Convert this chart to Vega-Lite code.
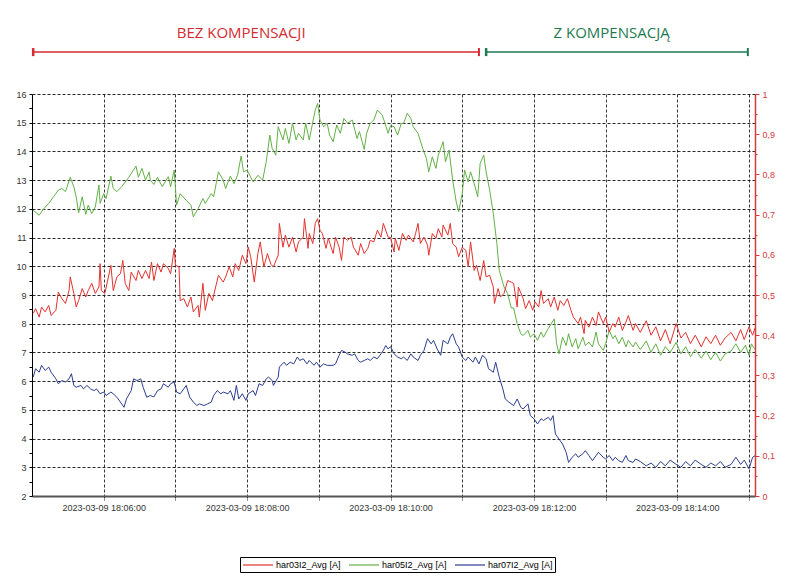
{
"$schema": "https://vega.github.io/schema/vega-lite/v6.json",
"width": 723, "height": 402,
"autosize": {"type": "none"},
"padding": {"left": 32, "top": 94, "right": 42, "bottom": 89},
"background": "white",
"config": {"view": {"stroke": null}, "axis": {"labelFont": "Liberation Sans", "labelFontSize": 9, "labelColor": "#333", "title": null}},
"datasets": {
"sections": [
{"section": "BEZ KOMPENSACJI", "start": "2023-03-09 18:05:01", "end": "2023-03-09 18:11:14", "mid": "2023-03-09 18:07:55"},
{"section": "Z KOMPENSACJĄ", "start": "2023-03-09 18:11:20", "end": "2023-03-09 18:14:59", "mid": "2023-03-09 18:13:05"}
],
"red": [
{"t":"2023-03-09 18:05:01","v":0.454},{"t":"2023-03-09 18:05:03","v":0.466},{"t":"2023-03-09 18:05:06","v":0.445},{"t":"2023-03-09 18:05:08","v":0.470},{"t":"2023-03-09 18:05:11","v":0.458},{"t":"2023-03-09 18:05:14","v":0.474},{"t":"2023-03-09 18:05:16","v":0.449},{"t":"2023-03-09 18:05:20","v":0.462},{"t":"2023-03-09 18:05:22","v":0.507},{"t":"2023-03-09 18:05:25","v":0.491},{"t":"2023-03-09 18:05:28","v":0.479},{"t":"2023-03-09 18:05:31","v":0.511},{"t":"2023-03-09 18:05:32","v":0.545},{"t":"2023-03-09 18:05:35","v":0.504},{"t":"2023-03-09 18:05:37","v":0.470},{"t":"2023-03-09 18:05:39","v":0.486},{"t":"2023-03-09 18:05:42","v":0.516},{"t":"2023-03-09 18:05:45","v":0.495},{"t":"2023-03-09 18:05:47","v":0.511},{"t":"2023-03-09 18:05:50","v":0.529},{"t":"2023-03-09 18:05:53","v":0.504},{"t":"2023-03-09 18:05:56","v":0.520},{"t":"2023-03-09 18:05:57","v":0.578},{"t":"2023-03-09 18:05:58","v":0.511},
{"t":"2023-03-09 18:06:01","v":0.504},{"t":"2023-03-09 18:06:03","v":0.532},{"t":"2023-03-09 18:06:06","v":0.574},{"t":"2023-03-09 18:06:08","v":0.511},{"t":"2023-03-09 18:06:11","v":0.545},{"t":"2023-03-09 18:06:14","v":0.553},{"t":"2023-03-09 18:06:16","v":0.586},{"t":"2023-03-09 18:06:18","v":0.529},{"t":"2023-03-09 18:06:21","v":0.511},{"t":"2023-03-09 18:06:23","v":0.557},{"t":"2023-03-09 18:06:27","v":0.536},{"t":"2023-03-09 18:06:29","v":0.561},{"t":"2023-03-09 18:06:32","v":0.541},{"t":"2023-03-09 18:06:35","v":0.561},{"t":"2023-03-09 18:06:38","v":0.541},{"t":"2023-03-09 18:06:40","v":0.582},{"t":"2023-03-09 18:06:42","v":0.536},{"t":"2023-03-09 18:06:45","v":0.578},{"t":"2023-03-09 18:06:48","v":0.557},{"t":"2023-03-09 18:06:50","v":0.578},{"t":"2023-03-09 18:06:54","v":0.566},{"t":"2023-03-09 18:06:56","v":0.553},{"t":"2023-03-09 18:06:59","v":0.616},
{"t":"2023-03-09 18:07:00","v":0.574},{"t":"2023-03-09 18:07:03","v":0.570},{"t":"2023-03-09 18:07:04","v":0.486},{"t":"2023-03-09 18:07:07","v":0.491},{"t":"2023-03-09 18:07:10","v":0.470},{"t":"2023-03-09 18:07:13","v":0.495},{"t":"2023-03-09 18:07:15","v":0.458},{"t":"2023-03-09 18:07:19","v":0.474},{"t":"2023-03-09 18:07:20","v":0.445},{"t":"2023-03-09 18:07:23","v":0.529},{"t":"2023-03-09 18:07:25","v":0.462},{"t":"2023-03-09 18:07:28","v":0.504},{"t":"2023-03-09 18:07:31","v":0.486},{"t":"2023-03-09 18:07:34","v":0.524},{"t":"2023-03-09 18:07:36","v":0.549},{"t":"2023-03-09 18:07:40","v":0.532},{"t":"2023-03-09 18:07:42","v":0.545},{"t":"2023-03-09 18:07:45","v":0.570},{"t":"2023-03-09 18:07:48","v":0.545},{"t":"2023-03-09 18:07:50","v":0.578},{"t":"2023-03-09 18:07:53","v":0.561},{"t":"2023-03-09 18:07:56","v":0.599},{"t":"2023-03-09 18:07:59","v":0.578},
{"t":"2023-03-09 18:08:01","v":0.619},{"t":"2023-03-09 18:08:03","v":0.595},{"t":"2023-03-09 18:08:06","v":0.532},{"t":"2023-03-09 18:08:09","v":0.603},{"t":"2023-03-09 18:08:11","v":0.632},{"t":"2023-03-09 18:08:14","v":0.570},{"t":"2023-03-09 18:08:17","v":0.603},{"t":"2023-03-09 18:08:20","v":0.576},{"t":"2023-03-09 18:08:22","v":0.570},{"t":"2023-03-09 18:08:26","v":0.599},{"t":"2023-03-09 18:08:27","v":0.678},{"t":"2023-03-09 18:08:30","v":0.619},{"t":"2023-03-09 18:08:32","v":0.649},{"t":"2023-03-09 18:08:35","v":0.619},{"t":"2023-03-09 18:08:38","v":0.644},{"t":"2023-03-09 18:08:41","v":0.607},{"t":"2023-03-09 18:08:43","v":0.632},{"t":"2023-03-09 18:08:47","v":0.644},{"t":"2023-03-09 18:08:48","v":0.690},{"t":"2023-03-09 18:08:51","v":0.616},{"t":"2023-03-09 18:08:52","v":0.653},{"t":"2023-03-09 18:08:55","v":0.628},{"t":"2023-03-09 18:08:57","v":0.678},{"t":"2023-03-09 18:08:59","v":0.690},
{"t":"2023-03-09 18:09:01","v":0.661},{"t":"2023-03-09 18:09:03","v":0.653},{"t":"2023-03-09 18:09:06","v":0.616},{"t":"2023-03-09 18:09:08","v":0.641},{"t":"2023-03-09 18:09:12","v":0.603},{"t":"2023-03-09 18:09:14","v":0.644},{"t":"2023-03-09 18:09:17","v":0.619},{"t":"2023-03-09 18:09:19","v":0.586},{"t":"2023-03-09 18:09:21","v":0.644},{"t":"2023-03-09 18:09:24","v":0.636},{"t":"2023-03-09 18:09:27","v":0.644},{"t":"2023-03-09 18:09:29","v":0.619},{"t":"2023-03-09 18:09:33","v":0.599},{"t":"2023-03-09 18:09:35","v":0.628},{"t":"2023-03-09 18:09:38","v":0.603},{"t":"2023-03-09 18:09:41","v":0.616},{"t":"2023-03-09 18:09:43","v":0.636},{"t":"2023-03-09 18:09:46","v":0.632},{"t":"2023-03-09 18:09:49","v":0.661},{"t":"2023-03-09 18:09:52","v":0.644},{"t":"2023-03-09 18:09:54","v":0.678},{"t":"2023-03-09 18:09:58","v":0.644},
{"t":"2023-03-09 18:10:00","v":0.643},{"t":"2023-03-09 18:10:03","v":0.607},{"t":"2023-03-09 18:10:04","v":0.641},{"t":"2023-03-09 18:10:07","v":0.611},{"t":"2023-03-09 18:10:10","v":0.653},{"t":"2023-03-09 18:10:13","v":0.636},{"t":"2023-03-09 18:10:15","v":0.649},{"t":"2023-03-09 18:10:19","v":0.632},{"t":"2023-03-09 18:10:21","v":0.653},{"t":"2023-03-09 18:10:23","v":0.678},{"t":"2023-03-09 18:10:25","v":0.628},{"t":"2023-03-09 18:10:28","v":0.644},{"t":"2023-03-09 18:10:31","v":0.624},{"t":"2023-03-09 18:10:32","v":0.599},{"t":"2023-03-09 18:10:35","v":0.653},{"t":"2023-03-09 18:10:38","v":0.641},{"t":"2023-03-09 18:10:40","v":0.665},{"t":"2023-03-09 18:10:43","v":0.644},{"t":"2023-03-09 18:10:44","v":0.674},{"t":"2023-03-09 18:10:48","v":0.649},{"t":"2023-03-09 18:10:50","v":0.678},{"t":"2023-03-09 18:10:52","v":0.628},{"t":"2023-03-09 18:10:55","v":0.619},{"t":"2023-03-09 18:10:57","v":0.595},
{"t":"2023-03-09 18:11:00","v":0.619},{"t":"2023-03-09 18:11:03","v":0.611},{"t":"2023-03-09 18:11:05","v":0.570},{"t":"2023-03-09 18:11:07","v":0.632},{"t":"2023-03-09 18:11:10","v":0.561},{"t":"2023-03-09 18:11:12","v":0.574},{"t":"2023-03-09 18:11:15","v":0.536},{"t":"2023-03-09 18:11:18","v":0.586},{"t":"2023-03-09 18:11:20","v":0.545},{"t":"2023-03-09 18:11:23","v":0.549},{"t":"2023-03-09 18:11:26","v":0.520},{"t":"2023-03-09 18:11:27","v":0.479},{"t":"2023-03-09 18:11:30","v":0.516},{"t":"2023-03-09 18:11:32","v":0.495},{"t":"2023-03-09 18:11:35","v":0.504},{"t":"2023-03-09 18:11:38","v":0.536},{"t":"2023-03-09 18:11:41","v":0.532},{"t":"2023-03-09 18:11:43","v":0.529},{"t":"2023-03-09 18:11:46","v":0.470},{"t":"2023-03-09 18:11:47","v":0.520},{"t":"2023-03-09 18:11:51","v":0.491},{"t":"2023-03-09 18:11:53","v":0.466},{"t":"2023-03-09 18:11:56","v":0.486},{"t":"2023-03-09 18:11:59","v":0.462},
{"t":"2023-03-09 18:12:01","v":0.483},{"t":"2023-03-09 18:12:04","v":0.470},{"t":"2023-03-09 18:12:06","v":0.511},{"t":"2023-03-09 18:12:08","v":0.479},{"t":"2023-03-09 18:12:12","v":0.491},{"t":"2023-03-09 18:12:14","v":0.470},{"t":"2023-03-09 18:12:17","v":0.495},{"t":"2023-03-09 18:12:20","v":0.462},{"t":"2023-03-09 18:12:22","v":0.486},{"t":"2023-03-09 18:12:25","v":0.474},{"t":"2023-03-09 18:12:28","v":0.491},{"t":"2023-03-09 18:12:31","v":0.462},{"t":"2023-03-09 18:12:33","v":0.445},{"t":"2023-03-09 18:12:37","v":0.429},{"t":"2023-03-09 18:12:39","v":0.445},{"t":"2023-03-09 18:12:42","v":0.404},{"t":"2023-03-09 18:12:43","v":0.437},{"t":"2023-03-09 18:12:46","v":0.420},{"t":"2023-03-09 18:12:49","v":0.445},{"t":"2023-03-09 18:12:52","v":0.424},{"t":"2023-03-09 18:12:54","v":0.458},{"t":"2023-03-09 18:12:58","v":0.429},
{"t":"2023-03-09 18:13:00","v":0.445},{"t":"2023-03-09 18:13:03","v":0.408},{"t":"2023-03-09 18:13:06","v":0.429},{"t":"2023-03-09 18:13:08","v":0.420},{"t":"2023-03-09 18:13:11","v":0.445},{"t":"2023-03-09 18:13:14","v":0.412},{"t":"2023-03-09 18:13:17","v":0.433},{"t":"2023-03-09 18:13:19","v":0.449},{"t":"2023-03-09 18:13:23","v":0.412},{"t":"2023-03-09 18:13:25","v":0.429},{"t":"2023-03-09 18:13:29","v":0.407},{"t":"2023-03-09 18:13:34","v":0.436},{"t":"2023-03-09 18:13:38","v":0.400},{"t":"2023-03-09 18:13:42","v":0.421},{"t":"2023-03-09 18:13:46","v":0.386},{"t":"2023-03-09 18:13:50","v":0.414},{"t":"2023-03-09 18:13:54","v":0.379},{"t":"2023-03-09 18:13:59","v":0.429},
{"t":"2023-03-09 18:14:03","v":0.393},{"t":"2023-03-09 18:14:07","v":0.407},{"t":"2023-03-09 18:14:11","v":0.379},{"t":"2023-03-09 18:14:15","v":0.400},{"t":"2023-03-09 18:14:20","v":0.371},{"t":"2023-03-09 18:14:24","v":0.396},{"t":"2023-03-09 18:14:28","v":0.379},{"t":"2023-03-09 18:14:32","v":0.400},{"t":"2023-03-09 18:14:36","v":0.375},{"t":"2023-03-09 18:14:40","v":0.393},{"t":"2023-03-09 18:14:45","v":0.407},{"t":"2023-03-09 18:14:49","v":0.386},{"t":"2023-03-09 18:14:53","v":0.414},{"t":"2023-03-09 18:14:56","v":0.389},{"t":"2023-03-09 18:15:00","v":0.421},{"t":"2023-03-09 18:15:03","v":0.400},{"t":"2023-03-09 18:15:05","v":0.418}
],
"green": [
{"t":"2023-03-09 18:05:01","v":11.95},{"t":"2023-03-09 18:05:06","v":11.78},{"t":"2023-03-09 18:05:10","v":12.01},{"t":"2023-03-09 18:05:14","v":12.19},{"t":"2023-03-09 18:05:18","v":12.42},{"t":"2023-03-09 18:05:22","v":12.65},{"t":"2023-03-09 18:05:25","v":12.71},{"t":"2023-03-09 18:05:28","v":12.60},{"t":"2023-03-09 18:05:32","v":13.10},{"t":"2023-03-09 18:05:35","v":12.77},{"t":"2023-03-09 18:05:37","v":12.42},{"t":"2023-03-09 18:05:39","v":11.86},{"t":"2023-03-09 18:05:42","v":12.42},{"t":"2023-03-09 18:05:45","v":11.81},{"t":"2023-03-09 18:05:47","v":12.13},{"t":"2023-03-09 18:05:50","v":11.84},{"t":"2023-03-09 18:05:53","v":12.07},{"t":"2023-03-09 18:05:56","v":12.83},{"t":"2023-03-09 18:05:57","v":12.19},
{"t":"2023-03-09 18:06:00","v":12.53},{"t":"2023-03-09 18:06:02","v":12.36},{"t":"2023-03-09 18:06:06","v":13.14},{"t":"2023-03-09 18:06:08","v":12.71},{"t":"2023-03-09 18:06:11","v":12.60},{"t":"2023-03-09 18:06:15","v":12.77},{"t":"2023-03-09 18:06:21","v":13.10},{"t":"2023-03-09 18:06:27","v":13.49},{"t":"2023-03-09 18:06:29","v":13.10},{"t":"2023-03-09 18:06:32","v":13.41},{"t":"2023-03-09 18:06:35","v":13.00},{"t":"2023-03-09 18:06:38","v":13.29},{"t":"2023-03-09 18:06:39","v":13.00},{"t":"2023-03-09 18:06:42","v":12.85},{"t":"2023-03-09 18:06:45","v":13.10},{"t":"2023-03-09 18:06:49","v":12.77},{"t":"2023-03-09 18:06:54","v":13.12},{"t":"2023-03-09 18:06:56","v":12.77},{"t":"2023-03-09 18:06:59","v":13.35},
{"t":"2023-03-09 18:07:01","v":12.13},{"t":"2023-03-09 18:07:04","v":12.53},{"t":"2023-03-09 18:07:09","v":12.30},{"t":"2023-03-09 18:07:13","v":12.13},{"t":"2023-03-09 18:07:15","v":11.72},{"t":"2023-03-09 18:07:19","v":12.01},{"t":"2023-03-09 18:07:23","v":12.36},{"t":"2023-03-09 18:07:25","v":12.19},{"t":"2023-03-09 18:07:30","v":12.53},{"t":"2023-03-09 18:07:32","v":12.42},{"t":"2023-03-09 18:07:36","v":13.29},{"t":"2023-03-09 18:07:40","v":13.00},{"t":"2023-03-09 18:07:42","v":12.71},{"t":"2023-03-09 18:07:46","v":13.14},{"t":"2023-03-09 18:07:49","v":12.88},{"t":"2023-03-09 18:07:52","v":13.17},{"t":"2023-03-09 18:07:55","v":13.84},{"t":"2023-03-09 18:07:57","v":13.29},
{"t":"2023-03-09 18:08:00","v":13.35},{"t":"2023-03-09 18:08:05","v":12.94},{"t":"2023-03-09 18:08:09","v":13.17},{"t":"2023-03-09 18:08:13","v":13.00},{"t":"2023-03-09 18:08:16","v":13.64},{"t":"2023-03-09 18:08:19","v":14.57},{"t":"2023-03-09 18:08:21","v":14.10},{"t":"2023-03-09 18:08:24","v":13.87},{"t":"2023-03-09 18:08:26","v":14.86},{"t":"2023-03-09 18:08:30","v":14.40},{"t":"2023-03-09 18:08:32","v":14.80},{"t":"2023-03-09 18:08:35","v":14.28},{"t":"2023-03-09 18:08:38","v":14.98},{"t":"2023-03-09 18:08:41","v":14.40},{"t":"2023-03-09 18:08:43","v":14.63},{"t":"2023-03-09 18:08:47","v":14.40},{"t":"2023-03-09 18:08:49","v":14.98},{"t":"2023-03-09 18:08:52","v":14.40},{"t":"2023-03-09 18:08:55","v":15.03},{"t":"2023-03-09 18:08:57","v":15.44},{"t":"2023-03-09 18:08:59","v":15.67},
{"t":"2023-03-09 18:09:01","v":15.09},{"t":"2023-03-09 18:09:04","v":14.86},{"t":"2023-03-09 18:09:07","v":14.98},{"t":"2023-03-09 18:09:09","v":14.57},{"t":"2023-03-09 18:09:12","v":14.34},{"t":"2023-03-09 18:09:15","v":14.92},{"t":"2023-03-09 18:09:18","v":14.63},{"t":"2023-03-09 18:09:21","v":15.15},{"t":"2023-03-09 18:09:24","v":14.98},{"t":"2023-03-09 18:09:28","v":15.09},{"t":"2023-03-09 18:09:32","v":14.45},{"t":"2023-03-09 18:09:34","v":14.69},{"t":"2023-03-09 18:09:38","v":14.07},{"t":"2023-03-09 18:09:40","v":14.63},{"t":"2023-03-09 18:09:43","v":14.98},{"t":"2023-03-09 18:09:46","v":15.09},{"t":"2023-03-09 18:09:49","v":15.44},{"t":"2023-03-09 18:09:53","v":15.27},{"t":"2023-03-09 18:09:55","v":15.03},{"t":"2023-03-09 18:09:58","v":14.63},
{"t":"2023-03-09 18:10:00","v":14.90},{"t":"2023-03-09 18:10:03","v":14.86},{"t":"2023-03-09 18:10:06","v":14.57},{"t":"2023-03-09 18:10:09","v":14.98},{"t":"2023-03-09 18:10:11","v":14.98},{"t":"2023-03-09 18:10:14","v":15.33},{"t":"2023-03-09 18:10:17","v":15.15},{"t":"2023-03-09 18:10:19","v":14.86},{"t":"2023-03-09 18:10:23","v":14.63},{"t":"2023-03-09 18:10:27","v":14.10},{"t":"2023-03-09 18:10:30","v":13.76},{"t":"2023-03-09 18:10:32","v":13.29},{"t":"2023-03-09 18:10:35","v":13.81},{"t":"2023-03-09 18:10:38","v":13.41},{"t":"2023-03-09 18:10:40","v":13.87},{"t":"2023-03-09 18:10:44","v":14.34},{"t":"2023-03-09 18:10:46","v":13.64},{"t":"2023-03-09 18:10:49","v":14.05},{"t":"2023-03-09 18:10:52","v":13.00},{"t":"2023-03-09 18:10:55","v":12.24},{"t":"2023-03-09 18:10:57","v":11.90},
{"t":"2023-03-09 18:11:00","v":12.53},{"t":"2023-03-09 18:11:02","v":13.35},{"t":"2023-03-09 18:11:05","v":12.94},{"t":"2023-03-09 18:11:07","v":13.29},{"t":"2023-03-09 18:11:10","v":12.88},{"t":"2023-03-09 18:11:13","v":12.42},{"t":"2023-03-09 18:11:15","v":13.58},{"t":"2023-03-09 18:11:18","v":13.87},{"t":"2023-03-09 18:11:20","v":13.29},{"t":"2023-03-09 18:11:23","v":12.65},{"t":"2023-03-09 18:11:26","v":11.84},{"t":"2023-03-09 18:11:29","v":10.79},{"t":"2023-03-09 18:11:31","v":9.86},{"t":"2023-03-09 18:11:35","v":9.28},{"t":"2023-03-09 18:11:38","v":9.05},{"t":"2023-03-09 18:11:41","v":8.55},{"t":"2023-03-09 18:11:43","v":8.55},{"t":"2023-03-09 18:11:46","v":8.00},{"t":"2023-03-09 18:11:49","v":7.65},{"t":"2023-03-09 18:11:51","v":7.59},{"t":"2023-03-09 18:11:55","v":7.77},{"t":"2023-03-09 18:11:57","v":7.53},
{"t":"2023-03-09 18:12:00","v":7.65},{"t":"2023-03-09 18:12:03","v":7.42},{"t":"2023-03-09 18:12:06","v":7.71},{"t":"2023-03-09 18:12:08","v":7.53},{"t":"2023-03-09 18:12:12","v":7.83},{"t":"2023-03-09 18:12:17","v":8.17},{"t":"2023-03-09 18:12:19","v":7.30},{"t":"2023-03-09 18:12:21","v":6.95},{"t":"2023-03-09 18:12:24","v":7.53},{"t":"2023-03-09 18:12:27","v":7.24},{"t":"2023-03-09 18:12:29","v":7.65},{"t":"2023-03-09 18:12:32","v":7.19},{"t":"2023-03-09 18:12:35","v":7.48},{"t":"2023-03-09 18:12:37","v":7.13},{"t":"2023-03-09 18:12:41","v":7.53},{"t":"2023-03-09 18:12:43","v":7.24},{"t":"2023-03-09 18:12:46","v":7.36},{"t":"2023-03-09 18:12:49","v":7.19},{"t":"2023-03-09 18:12:52","v":7.71},{"t":"2023-03-09 18:12:54","v":7.30},{"t":"2023-03-09 18:12:58","v":7.07},
{"t":"2023-03-09 18:13:00","v":7.30},{"t":"2023-03-09 18:13:03","v":7.77},{"t":"2023-03-09 18:13:06","v":7.48},{"t":"2023-03-09 18:13:08","v":7.59},{"t":"2023-03-09 18:13:11","v":7.30},{"t":"2023-03-09 18:13:14","v":7.53},{"t":"2023-03-09 18:13:17","v":7.19},{"t":"2023-03-09 18:13:19","v":7.42},{"t":"2023-03-09 18:13:23","v":7.19},{"t":"2023-03-09 18:13:25","v":7.36},{"t":"2023-03-09 18:13:29","v":7.10},{"t":"2023-03-09 18:13:34","v":7.40},{"t":"2023-03-09 18:13:38","v":7.00},{"t":"2023-03-09 18:13:42","v":7.30},{"t":"2023-03-09 18:13:46","v":6.90},{"t":"2023-03-09 18:13:50","v":7.20},{"t":"2023-03-09 18:13:54","v":7.00},{"t":"2023-03-09 18:13:59","v":7.35},
{"t":"2023-03-09 18:14:03","v":6.95},{"t":"2023-03-09 18:14:07","v":7.20},{"t":"2023-03-09 18:14:11","v":6.85},{"t":"2023-03-09 18:14:15","v":7.10},{"t":"2023-03-09 18:14:20","v":6.80},{"t":"2023-03-09 18:14:24","v":7.05},{"t":"2023-03-09 18:14:28","v":6.75},{"t":"2023-03-09 18:14:32","v":7.00},{"t":"2023-03-09 18:14:36","v":6.70},{"t":"2023-03-09 18:14:40","v":6.95},{"t":"2023-03-09 18:14:45","v":7.05},{"t":"2023-03-09 18:14:49","v":7.30},{"t":"2023-03-09 18:14:53","v":7.00},{"t":"2023-03-09 18:14:57","v":7.25},{"t":"2023-03-09 18:15:00","v":6.90},{"t":"2023-03-09 18:15:02","v":7.30},{"t":"2023-03-09 18:15:05","v":7.10}
],
"blue": [
{"t":"2023-03-09 18:05:01","v":6.14},{"t":"2023-03-09 18:05:03","v":6.43},{"t":"2023-03-09 18:05:06","v":6.31},{"t":"2023-03-09 18:05:08","v":6.55},{"t":"2023-03-09 18:05:11","v":6.37},{"t":"2023-03-09 18:05:14","v":6.49},{"t":"2023-03-09 18:05:16","v":6.31},{"t":"2023-03-09 18:05:20","v":6.08},{"t":"2023-03-09 18:05:22","v":5.91},{"t":"2023-03-09 18:05:25","v":6.02},{"t":"2023-03-09 18:05:28","v":5.97},{"t":"2023-03-09 18:05:31","v":6.08},{"t":"2023-03-09 18:05:33","v":6.26},{"t":"2023-03-09 18:05:35","v":5.85},{"t":"2023-03-09 18:05:37","v":5.79},{"t":"2023-03-09 18:05:41","v":5.85},{"t":"2023-03-09 18:05:43","v":5.73},{"t":"2023-03-09 18:05:46","v":5.85},{"t":"2023-03-09 18:05:49","v":5.73},{"t":"2023-03-09 18:05:52","v":5.67},{"t":"2023-03-09 18:05:54","v":5.73},{"t":"2023-03-09 18:05:57","v":5.56},
{"t":"2023-03-09 18:06:00","v":5.62},{"t":"2023-03-09 18:06:02","v":5.50},{"t":"2023-03-09 18:06:06","v":5.62},{"t":"2023-03-09 18:06:08","v":5.56},{"t":"2023-03-09 18:06:11","v":5.44},{"t":"2023-03-09 18:06:14","v":5.27},{"t":"2023-03-09 18:06:17","v":5.09},{"t":"2023-03-09 18:06:19","v":5.38},{"t":"2023-03-09 18:06:23","v":5.67},{"t":"2023-03-09 18:06:25","v":6.08},{"t":"2023-03-09 18:06:28","v":6.02},{"t":"2023-03-09 18:06:31","v":6.08},{"t":"2023-03-09 18:06:33","v":5.79},{"t":"2023-03-09 18:06:36","v":5.44},{"t":"2023-03-09 18:06:39","v":5.50},{"t":"2023-03-09 18:06:42","v":5.45},{"t":"2023-03-09 18:06:45","v":5.67},{"t":"2023-03-09 18:06:48","v":5.73},{"t":"2023-03-09 18:06:50","v":5.91},{"t":"2023-03-09 18:06:54","v":5.79},{"t":"2023-03-09 18:06:56","v":5.91},{"t":"2023-03-09 18:06:59","v":5.97},
{"t":"2023-03-09 18:07:01","v":5.62},{"t":"2023-03-09 18:07:04","v":5.56},{"t":"2023-03-09 18:07:07","v":5.73},{"t":"2023-03-09 18:07:09","v":5.85},{"t":"2023-03-09 18:07:12","v":5.44},{"t":"2023-03-09 18:07:15","v":5.27},{"t":"2023-03-09 18:07:18","v":5.15},{"t":"2023-03-09 18:07:20","v":5.21},{"t":"2023-03-09 18:07:24","v":5.15},{"t":"2023-03-09 18:07:27","v":5.21},{"t":"2023-03-09 18:07:30","v":5.27},{"t":"2023-03-09 18:07:32","v":5.50},{"t":"2023-03-09 18:07:35","v":5.67},{"t":"2023-03-09 18:07:38","v":5.56},{"t":"2023-03-09 18:07:40","v":5.62},{"t":"2023-03-09 18:07:44","v":5.56},{"t":"2023-03-09 18:07:46","v":5.67},{"t":"2023-03-09 18:07:49","v":5.33},{"t":"2023-03-09 18:07:51","v":5.85},{"t":"2023-03-09 18:07:53","v":5.38},{"t":"2023-03-09 18:07:56","v":5.56},{"t":"2023-03-09 18:07:59","v":5.33},
{"t":"2023-03-09 18:08:01","v":5.56},{"t":"2023-03-09 18:08:05","v":5.67},{"t":"2023-03-09 18:08:07","v":5.50},{"t":"2023-03-09 18:08:10","v":5.91},{"t":"2023-03-09 18:08:13","v":5.85},{"t":"2023-03-09 18:08:16","v":6.08},{"t":"2023-03-09 18:08:18","v":6.14},{"t":"2023-03-09 18:08:21","v":6.02},{"t":"2023-03-09 18:08:22","v":5.85},{"t":"2023-03-09 18:08:26","v":6.14},{"t":"2023-03-09 18:08:27","v":6.49},{"t":"2023-03-09 18:08:31","v":6.66},{"t":"2023-03-09 18:08:33","v":6.55},{"t":"2023-03-09 18:08:36","v":6.66},{"t":"2023-03-09 18:08:39","v":6.60},{"t":"2023-03-09 18:08:42","v":6.84},{"t":"2023-03-09 18:08:44","v":6.72},{"t":"2023-03-09 18:08:47","v":6.78},{"t":"2023-03-09 18:08:50","v":6.60},{"t":"2023-03-09 18:08:52","v":6.72},{"t":"2023-03-09 18:08:56","v":6.55},{"t":"2023-03-09 18:08:58","v":6.66},
{"t":"2023-03-09 18:09:01","v":6.49},{"t":"2023-03-09 18:09:04","v":6.60},{"t":"2023-03-09 18:09:07","v":6.55},{"t":"2023-03-09 18:09:12","v":6.55},{"t":"2023-03-09 18:09:14","v":6.60},{"t":"2023-03-09 18:09:17","v":6.90},{"t":"2023-03-09 18:09:19","v":7.07},{"t":"2023-03-09 18:09:22","v":7.01},{"t":"2023-03-09 18:09:24","v":6.95},{"t":"2023-03-09 18:09:28","v":6.90},{"t":"2023-03-09 18:09:30","v":6.95},{"t":"2023-03-09 18:09:33","v":6.72},{"t":"2023-03-09 18:09:35","v":6.66},{"t":"2023-03-09 18:09:38","v":6.72},{"t":"2023-03-09 18:09:41","v":6.78},{"t":"2023-03-09 18:09:43","v":6.72},{"t":"2023-03-09 18:09:46","v":6.84},{"t":"2023-03-09 18:09:49","v":6.78},{"t":"2023-03-09 18:09:52","v":6.95},{"t":"2023-03-09 18:09:54","v":7.07},{"t":"2023-03-09 18:09:56","v":7.24},{"t":"2023-03-09 18:09:58","v":7.12},
{"t":"2023-03-09 18:10:00","v":7.20},{"t":"2023-03-09 18:10:03","v":6.95},{"t":"2023-03-09 18:10:06","v":6.84},{"t":"2023-03-09 18:10:09","v":6.78},{"t":"2023-03-09 18:10:11","v":6.84},{"t":"2023-03-09 18:10:14","v":6.72},{"t":"2023-03-09 18:10:17","v":6.95},{"t":"2023-03-09 18:10:19","v":6.84},{"t":"2023-03-09 18:10:23","v":6.72},{"t":"2023-03-09 18:10:25","v":6.90},{"t":"2023-03-09 18:10:28","v":7.07},{"t":"2023-03-09 18:10:31","v":7.48},{"t":"2023-03-09 18:10:34","v":7.30},{"t":"2023-03-09 18:10:36","v":7.42},{"t":"2023-03-09 18:10:39","v":7.12},{"t":"2023-03-09 18:10:42","v":6.90},{"t":"2023-03-09 18:10:44","v":7.42},{"t":"2023-03-09 18:10:48","v":7.30},{"t":"2023-03-09 18:10:50","v":7.53},{"t":"2023-03-09 18:10:52","v":7.65},{"t":"2023-03-09 18:10:55","v":7.30},{"t":"2023-03-09 18:10:57","v":7.19},
{"t":"2023-03-09 18:11:00","v":6.84},{"t":"2023-03-09 18:11:03","v":6.72},{"t":"2023-03-09 18:11:05","v":6.84},{"t":"2023-03-09 18:11:09","v":6.66},{"t":"2023-03-09 18:11:11","v":6.84},{"t":"2023-03-09 18:11:14","v":6.60},{"t":"2023-03-09 18:11:17","v":6.90},{"t":"2023-03-09 18:11:20","v":6.78},{"t":"2023-03-09 18:11:22","v":6.43},{"t":"2023-03-09 18:11:26","v":6.31},{"t":"2023-03-09 18:11:28","v":6.66},{"t":"2023-03-09 18:11:31","v":6.14},{"t":"2023-03-09 18:11:34","v":5.73},{"t":"2023-03-09 18:11:36","v":5.38},{"t":"2023-03-09 18:11:39","v":5.27},{"t":"2023-03-09 18:11:43","v":5.15},{"t":"2023-03-09 18:11:46","v":5.38},{"t":"2023-03-09 18:11:49","v":5.09},{"t":"2023-03-09 18:11:51","v":5.03},{"t":"2023-03-09 18:11:55","v":5.21},{"t":"2023-03-09 18:11:57","v":4.80},
{"t":"2023-03-09 18:12:00","v":4.69},{"t":"2023-03-09 18:12:03","v":4.51},{"t":"2023-03-09 18:12:06","v":4.69},{"t":"2023-03-09 18:12:08","v":4.63},{"t":"2023-03-09 18:12:12","v":4.74},{"t":"2023-03-09 18:12:14","v":4.63},{"t":"2023-03-09 18:12:16","v":4.80},{"t":"2023-03-09 18:12:18","v":4.16},{"t":"2023-03-09 18:12:21","v":3.98},{"t":"2023-03-09 18:12:24","v":3.81},{"t":"2023-03-09 18:12:27","v":3.52},{"t":"2023-03-09 18:12:29","v":3.17},{"t":"2023-03-09 18:12:32","v":3.35},{"t":"2023-03-09 18:12:35","v":3.47},{"t":"2023-03-09 18:12:37","v":3.35},{"t":"2023-03-09 18:12:41","v":3.47},{"t":"2023-03-09 18:12:43","v":3.58},{"t":"2023-03-09 18:12:46","v":3.41},{"t":"2023-03-09 18:12:49","v":3.23},{"t":"2023-03-09 18:12:52","v":3.41},{"t":"2023-03-09 18:12:54","v":3.52},{"t":"2023-03-09 18:12:58","v":3.35},
{"t":"2023-03-09 18:13:00","v":3.29},{"t":"2023-03-09 18:13:03","v":3.41},{"t":"2023-03-09 18:13:06","v":3.23},{"t":"2023-03-09 18:13:08","v":3.35},{"t":"2023-03-09 18:13:11","v":3.23},{"t":"2023-03-09 18:13:14","v":3.17},{"t":"2023-03-09 18:13:17","v":3.41},{"t":"2023-03-09 18:13:19","v":3.23},{"t":"2023-03-09 18:13:23","v":3.17},{"t":"2023-03-09 18:13:25","v":3.29},{"t":"2023-03-09 18:13:29","v":3.20},{"t":"2023-03-09 18:13:34","v":3.05},{"t":"2023-03-09 18:13:38","v":3.15},{"t":"2023-03-09 18:13:42","v":3.00},{"t":"2023-03-09 18:13:46","v":3.20},{"t":"2023-03-09 18:13:50","v":3.05},{"t":"2023-03-09 18:13:54","v":3.25},{"t":"2023-03-09 18:13:59","v":3.10},
{"t":"2023-03-09 18:14:03","v":3.00},{"t":"2023-03-09 18:14:07","v":3.20},{"t":"2023-03-09 18:14:11","v":3.05},{"t":"2023-03-09 18:14:15","v":3.25},{"t":"2023-03-09 18:14:20","v":3.10},{"t":"2023-03-09 18:14:24","v":3.00},{"t":"2023-03-09 18:14:28","v":3.15},{"t":"2023-03-09 18:14:32","v":3.05},{"t":"2023-03-09 18:14:36","v":3.20},{"t":"2023-03-09 18:14:40","v":3.00},{"t":"2023-03-09 18:14:45","v":3.10},{"t":"2023-03-09 18:14:49","v":3.35},{"t":"2023-03-09 18:14:53","v":3.10},{"t":"2023-03-09 18:14:56","v":3.25},{"t":"2023-03-09 18:15:00","v":2.95},{"t":"2023-03-09 18:15:03","v":3.35},{"t":"2023-03-09 18:15:05","v":3.40}
]
},
"layer": [
{
"encoding": {
"y": {"type": "quantitative",
"scale": {"domain": [2, 16], "nice": false, "zero": false},
"axis": {"title": null,
"values": [2, 2.5, 3, 3.5, 4, 4.5, 5, 5.5, 6, 6.5, 7, 7.5, 8, 8.5, 9, 9.5, 10, 10.5, 11, 11.5, 12, 12.5, 13, 13.5, 14, 14.5, 15, 15.5, 16],
"labelExpr": "datum.value % 1 == 0 ? format(datum.value, 'd') : ''",
"labelOverlap": false,
"grid": true, "gridColor": "#111", "gridDash": [3, 2],
"gridOpacity": {"condition": {"test": "datum.value % 1 != 0", "value": 0}, "value": 0.9},
"domainColor": "#000", "tickColor": "#000", "tickSize": 3, "labelPadding": 3}}
},
"layer": [
{
"data": {"name": "green"},
"mark": {"type": "line", "strokeWidth": 1, "interpolate": "linear"},
"encoding": {
"x": {"field": "t", "type": "temporal",
"scale": {"domain": [{"year": 2023, "month": 3, "date": 9, "hours": 18, "minutes": 5, "seconds": 0}, {"year": 2023, "month": 3, "date": 9, "hours": 18, "minutes": 15, "seconds": 5}], "nice": false},
"axis": {"title": null,
"values": [{"year": 2023, "month": 3, "date": 9, "hours": 18, "minutes": 6}, {"year": 2023, "month": 3, "date": 9, "hours": 18, "minutes": 7}, {"year": 2023, "month": 3, "date": 9, "hours": 18, "minutes": 8}, {"year": 2023, "month": 3, "date": 9, "hours": 18, "minutes": 9}, {"year": 2023, "month": 3, "date": 9, "hours": 18, "minutes": 10}, {"year": 2023, "month": 3, "date": 9, "hours": 18, "minutes": 11}, {"year": 2023, "month": 3, "date": 9, "hours": 18, "minutes": 12}, {"year": 2023, "month": 3, "date": 9, "hours": 18, "minutes": 13}, {"year": 2023, "month": 3, "date": 9, "hours": 18, "minutes": 14}, {"year": 2023, "month": 3, "date": 9, "hours": 18, "minutes": 15}],
"labelExpr": "minutes(datum.value) % 2 == 0 ? timeFormat(datum.value, '%Y-%m-%d %H:%M:%S') : ''",
"labelOverlap": false, "labelFlush": false,
"grid": true, "gridColor": "#222", "gridDash": [3, 2], "gridOpacity": 0.9,
"domainColor": "#555", "domainWidth": 2, "tickColor": "#222", "tickSize": 4, "tickDash": [2, 1], "labelPadding": 3}},
"y": {"field": "v"},
"color": {"datum": "har05I2_Avg [A]",
"scale": {"domain": ["har03I2_Avg [A]", "har05I2_Avg [A]", "har07I2_Avg [A]"], "range": ["#e3322e", "#62b046", "#2b3d8f"]},
"legend": {"orient": "none", "legendX": 208, "legendY": 463, "direction": "horizontal", "title": null,
"symbolType": "M-1,0H5", "symbolSize": 100, "symbolStrokeWidth": 1.2,
"labelFont": "Liberation Sans", "labelFontSize": 9, "labelColor": "#000", "labelOffset": 22,
"strokeColor": "#000", "padding": 2, "columnPadding": 5}}
}
},
{
"data": {"name": "blue"},
"mark": {"type": "line", "strokeWidth": 1},
"encoding": {
"x": {"field": "t", "type": "temporal"},
"y": {"field": "v"},
"color": {"datum": "har07I2_Avg [A]"}
}
},
{
"data": {"name": "sections"},
"mark": {"type": "rule", "strokeWidth": 1.5},
"encoding": {
"x": {"field": "start", "type": "temporal"},
"x2": {"field": "end"},
"y": {"datum": 17.46},
"color": {"condition": {"test": "datum.section == 'BEZ KOMPENSACJI'", "value": "#d42a32"}, "value": "#1f7a52"}
}
},
{
"data": {"name": "sections"},
"mark": {"type": "rule", "strokeWidth": 2.5},
"encoding": {
"x": {"field": "start", "type": "temporal"},
"y": {"datum": 17.32},
"y2": {"datum": 17.6},
"color": {"condition": {"test": "datum.section == 'BEZ KOMPENSACJI'", "value": "#d42a32"}, "value": "#1f7a52"}
}
},
{
"data": {"name": "sections"},
"mark": {"type": "rule", "strokeWidth": 2},
"encoding": {
"x": {"field": "end", "type": "temporal"},
"y": {"datum": 17.32},
"y2": {"datum": 17.6},
"color": {"condition": {"test": "datum.section == 'BEZ KOMPENSACJI'", "value": "#d42a32"}, "value": "#1f7a52"}
}
},
{
"data": {"name": "sections"},
"mark": {"type": "text", "font": "Open Sans", "fontSize": 15, "align": "center", "baseline": "middle"},
"encoding": {
"x": {"field": "mid", "type": "temporal"},
"y": {"datum": 18.13},
"text": {"field": "section"},
"color": {"condition": {"test": "datum.section == 'BEZ KOMPENSACJI'", "value": "#d42a32"}, "value": "#1f7a52"}
}
}
]
},
{
"data": {"name": "red"},
"mark": {"type": "line", "strokeWidth": 1},
"encoding": {
"x": {"field": "t", "type": "temporal"},
"y": {"field": "v", "type": "quantitative",
"scale": {"domain": [0, 1], "nice": false},
"axis": {"orient": "right", "title": null,
"values": [0, 0.05, 0.1, 0.15, 0.2, 0.25, 0.3, 0.35, 0.4, 0.45, 0.5, 0.55, 0.6, 0.65, 0.7, 0.75, 0.8, 0.85, 0.9, 0.95, 1],
"labelExpr": "abs(datum.value * 10 - round(datum.value * 10)) < 0.001 ? replace(format(datum.value, '.1~f'), '.', ',') : ''",
"labelOverlap": false, "grid": false,
"domainColor": "#d63a3a", "domainWidth": 1.5, "tickColor": "#d63a3a", "labelColor": "#d63a3a",
"tickSize": {"condition": {"test": "abs(datum.value * 10 - round(datum.value * 10)) < 0.001", "value": 4}, "value": 2},
"labelPadding": 3}},
"color": {"datum": "har03I2_Avg [A]"}
}
}
],
"resolve": {"scale": {"y": "independent"}}
}
